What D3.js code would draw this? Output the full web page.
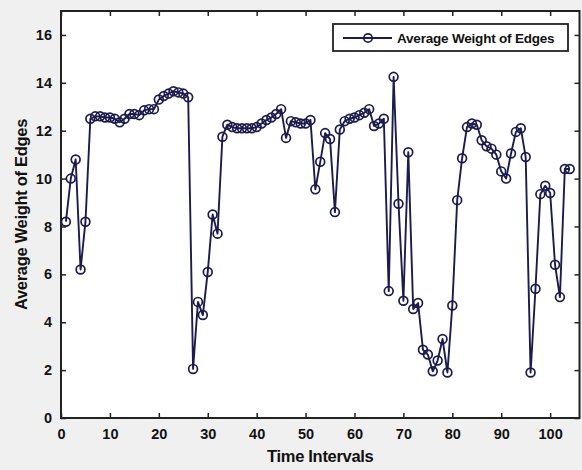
<!DOCTYPE html>
<html>
<head>
<meta charset="utf-8">
<script src="https://cdn.jsdelivr.net/npm/d3@7"></script>
<style>
  html, body { margin: 0; padding: 0; background: #f0f0f0; }
  svg { display: block; }
  text { font-family: "Liberation Sans", Arial, sans-serif; font-weight: bold; fill: #111; }
</style>
</head>
<body>
<svg id="chart" width="582" height="470"></svg>
<script>
// Time interval index for each sample
const timeIntervals = d3.range(1, 105);

// Average weight of edges per time interval
const avgWeight = [
  8.2, 10.0, 10.8, 6.2, 8.2, 12.5, 12.6, 12.6, 12.55,
  12.55, 12.5, 12.35, 12.5, 12.7, 12.7, 12.65, 12.85, 12.9, 12.9,
  13.3, 13.45, 13.55, 13.65, 13.6, 13.55, 13.4, 2.05, 4.85, 4.3,
  6.1, 8.5, 7.7, 11.75, 12.25, 12.15, 12.1, 12.1, 12.1, 12.1,
  12.15, 12.3, 12.45, 12.55, 12.7, 12.9, 11.7, 12.4, 12.35, 12.3,
  12.3, 12.45, 9.55, 10.7, 11.9, 11.65, 8.6, 12.05, 12.4, 12.5,
  12.55, 12.65, 12.75, 12.9, 12.2, 12.3, 12.5, 5.3, 14.25, 8.95,
  4.9, 11.1, 4.55, 4.8, 2.85, 2.65, 1.95, 2.4, 3.3, 1.9,
  4.7, 9.1, 10.85, 12.15, 12.3, 12.25, 11.6, 11.35, 11.25, 11.0,
  10.3, 10.0, 11.05, 11.95, 12.1, 10.9, 1.9, 5.4, 9.35, 9.7,
  9.4, 6.4, 5.05, 10.4, 10.4
];

const xTicks = [0, 10, 20, 30, 40, 50, 60, 70, 80, 90, 100];
const yTicks = [0, 2, 4, 6, 8, 10, 12, 14, 16];

const seriesName = "Average Weight of Edges";
const xTitle = "Time Intervals";
const yTitle = "Average Weight of Edges";

const ink = "#1b1b4d";

const svg = d3.select("#chart");
const margin = { left: 61, right: 2.5, top: 11, bottom: 52 };
const W = 582, H = 470;
const plotW = W - margin.left - margin.right;
const plotH = H - margin.top - margin.bottom;

const x = d3.scaleLinear().domain([0, 106]).range([margin.left, margin.left + plotW]);
const y = d3.scaleLinear().domain([0, 17]).range([margin.top + plotH, margin.top]);

// plot area
svg.append("rect")
  .attr("x", margin.left).attr("y", margin.top)
  .attr("width", plotW).attr("height", plotH)
  .attr("fill", "#fff");

svg.append("clipPath").attr("id", "plotClip")
  .append("rect")
  .attr("x", margin.left).attr("y", margin.top)
  .attr("width", plotW).attr("height", plotH);

// axes with inward ticks
const tickLen = 5;
const bottomAxis = d3.axisBottom(x).tickValues(xTicks).tickSizeInner(-tickLen).tickSizeOuter(0).tickPadding(11);
const topAxis = d3.axisTop(x).tickValues(xTicks).tickSizeInner(-tickLen).tickSizeOuter(0).tickFormat("");
const leftAxis = d3.axisLeft(y).tickValues(yTicks).tickSizeInner(-tickLen).tickSizeOuter(0).tickPadding(9);
const rightAxis = d3.axisRight(y).tickValues(yTicks).tickSizeInner(-tickLen).tickSizeOuter(0).tickFormat("");

function styleAxis(g) {
  g.select(".domain").remove();
  g.selectAll(".tick line").attr("stroke", "#222").attr("stroke-width", 1.5);
  g.selectAll(".tick text").attr("font-size", 14.5).attr("font-family", "Liberation Sans, Arial, sans-serif").attr("font-weight", "bold").attr("fill", "#111");
}

svg.append("g").attr("transform", `translate(0,${margin.top + plotH})`).call(bottomAxis).call(styleAxis);
svg.append("g").attr("transform", `translate(0,${margin.top})`).call(topAxis).call(styleAxis);
svg.append("g").attr("transform", `translate(${margin.left},0)`).call(leftAxis).call(styleAxis);
svg.append("g").attr("transform", `translate(${margin.left + plotW},0)`).call(rightAxis).call(styleAxis);

// frame
svg.append("rect")
  .attr("x", margin.left).attr("y", margin.top)
  .attr("width", plotW).attr("height", plotH)
  .attr("fill", "none").attr("stroke", "#222").attr("stroke-width", 2);

// series
const pts = timeIntervals.map((t, i) => ({ t, v: avgWeight[i] }));
const line = d3.line().x(d => x(d.t)).y(d => y(d.v));

const plot = svg.append("g").attr("clip-path", "url(#plotClip)");
plot.append("path")
  .datum(pts)
  .attr("d", line)
  .attr("fill", "none")
  .attr("stroke", ink)
  .attr("stroke-width", 1.9)
  .attr("stroke-linejoin", "round");

plot.selectAll("circle.pt")
  .data(pts)
  .join("circle")
  .attr("class", "pt")
  .attr("cx", d => x(d.t))
  .attr("cy", d => y(d.v))
  .attr("r", 4.4)
  .attr("fill", "none")
  .attr("stroke", ink)
  .attr("stroke-width", 1.7);

// legend
const lg = svg.append("g").attr("transform", "translate(333,24)");
lg.append("rect")
  .attr("width", 235).attr("height", 27)
  .attr("fill", "#fff").attr("stroke", "#222").attr("stroke-width", 1.8);
lg.append("line")
  .attr("x1", 10).attr("x2", 59).attr("y1", 14).attr("y2", 14)
  .attr("stroke", ink).attr("stroke-width", 1.9);
lg.append("circle")
  .attr("cx", 35).attr("cy", 14).attr("r", 4.2)
  .attr("fill", "none").attr("stroke", ink).attr("stroke-width", 1.7);
lg.append("text")
  .attr("x", 64).attr("y", 19)
  .attr("font-size", 13.5)
  .attr("letter-spacing", "-0.2")
  .text(seriesName);

// axis titles
svg.append("text")
  .attr("x", margin.left + plotW / 2).attr("y", 462)
  .attr("text-anchor", "middle")
  .attr("font-size", 16.5)
  .attr("letter-spacing", "-0.3")
  .text(xTitle);

svg.append("text")
  .attr("transform", `translate(27,${margin.top + plotH / 2}) rotate(-90)`)
  .attr("text-anchor", "middle")
  .attr("font-size", 16.5)
  .attr("letter-spacing", "-0.3")
  .text(yTitle);
</script>
</body>
</html>
